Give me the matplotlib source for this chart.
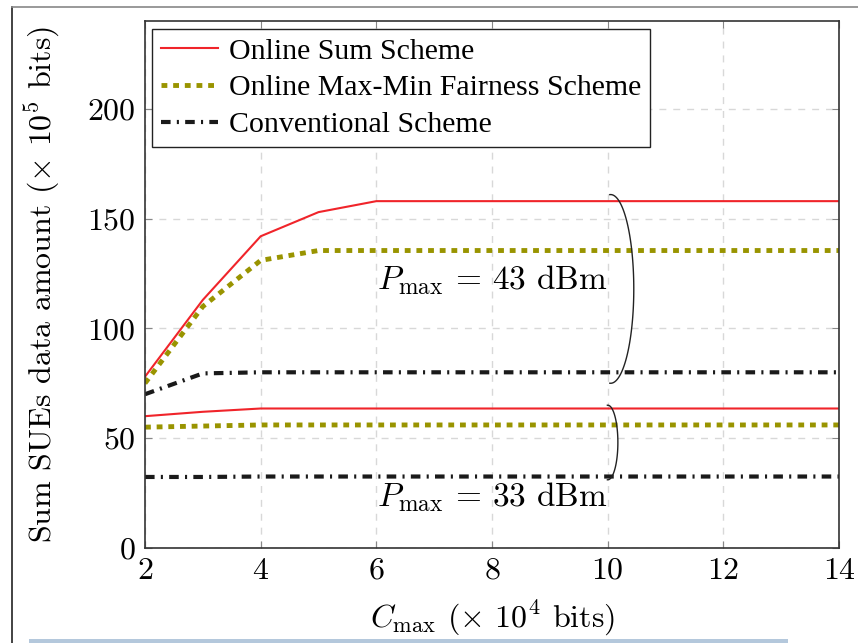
import matplotlib
matplotlib.use("Agg")
import numpy as np
import matplotlib.pyplot as plt
from matplotlib.patches import Rectangle
from matplotlib.lines import Line2D

# data
c_max = [2, 3, 4, 5, 6, 7, 8, 9, 10, 11, 12, 13, 14]

sum_43 = [78, 113, 142, 153, 158, 158, 158, 158, 158, 158, 158, 158, 158]
maxmin_43 = [75, 110, 131, 135.5, 135.5, 135.5, 135.5, 135.5, 135.5, 135.5, 135.5, 135.5, 135.5]
conv_43 = [70, 79.5, 80, 80, 80, 80, 80, 80, 80, 80, 80, 80, 80]

sum_33 = [60, 62, 63.5, 63.5, 63.5, 63.5, 63.5, 63.5, 63.5, 63.5, 63.5, 63.5, 63.5]
maxmin_33 = [55, 55.5, 56, 56, 56, 56, 56, 56, 56, 56, 56, 56, 56]
conv_33 = [32.3, 32.3, 32.5, 32.5, 32.5, 32.5, 32.5, 32.5, 32.5, 32.5, 32.5, 32.5, 32.5]

labels = ["Online Sum Scheme", "Online Max-Min Fairness Scheme", "Conventional Scheme"]

plt.rcParams["mathtext.fontset"] = "cm"
plt.rcParams["font.family"] = "cmr10"
plt.rcParams["axes.formatter.use_mathtext"] = True

red = "#f0242a"
olive = "#999400"
black = "#1a1a1a"

fig = plt.figure(figsize=(8.58, 6.43), dpi=100)
ax = fig.add_axes([0.169, 0.148, 0.809, 0.819])

sum_style = dict(color=red, lw=1.5)
mm_style = dict(color=olive, lw=3.5, dashes=(1.2, 1.2), dash_capstyle="butt")
cv_style = dict(color=black, lw=3.0, dashes=(2.3, 1.5, 0.5, 1.5), dash_capstyle="butt")

ax.plot(c_max, sum_43, **sum_style)
ax.plot(c_max, maxmin_43, **mm_style)
ax.plot(c_max, conv_43, **cv_style)
ax.plot(c_max, sum_33, **sum_style)
ax.plot(c_max, maxmin_33, **mm_style)
ax.plot(c_max, conv_33, **cv_style)

ax.set_xlim(2, 14)
ax.set_ylim(0, 240)
ax.set_xticks(range(2, 15, 2))
ax.set_yticks(range(0, 201, 50))
ax.tick_params(direction="in", length=5, color="#888888", labelsize=23,
               top=True, right=True, pad=7)
ax.grid(True, ls=(0, (5, 5)), color="#d8d8d8", lw=1)
ax.set_axisbelow(True)
for s in ax.spines.values():
    s.set_color("#333333")
    s.set_linewidth(1.2)

ax.set_xlabel(r"$C_{\max}$ ($\times$ $10^4$ bits)", fontsize=23, labelpad=10)
ax.set_ylabel(r"Sum SUEs data amount ($\times$ $10^5$ bits)", fontsize=23, labelpad=18)


def bracket(xc, yc, w, h):
    # right half of an ellipse, used as a brace around a group of curves
    t = np.radians(np.linspace(-92, 92, 100))
    ax.plot(xc + w / 2 * np.cos(t), yc + h / 2 * np.sin(t), color="#222222", lw=1.0)


bracket(10.05, 118, 0.8, 86)
bracket(10.0, 48, 0.35, 34)
ax.text(8.0, 122, r"$P_{\max}$ = 43 dBm", fontsize=24, ha="center", va="center")
ax.text(8.0, 23, r"$P_{\max}$ = 33 dBm", fontsize=24, ha="center", va="center")

handles = [Line2D([], [], **sum_style), Line2D([], [], **mm_style), Line2D([], [], **cv_style)]
leg = ax.legend(handles, labels, loc="upper left", prop={"family": "Liberation Serif", "size": 21.5},
                frameon=True, fancybox=False, edgecolor="#222222", framealpha=1,
                borderaxespad=0.25, handlelength=1.9, labelspacing=0.33, borderpad=0.3,
                handletextpad=0.35)
leg.get_frame().set_linewidth(1.0)

# screenshot frame pieces
fig.add_artist(Line2D([12 / 858, 12 / 858], [0, 1 - 7 / 643], color="#222222", lw=1.2))
fig.add_artist(Line2D([12 / 858, 1], [1 - 7 / 643, 1 - 7 / 643], color="#888888", lw=1.2))
fig.add_artist(Rectangle((29 / 858, 0), (788 - 29) / 858, 4 / 643, color="#b4c8dc", lw=0))

fig.savefig("out.png", dpi=100)
